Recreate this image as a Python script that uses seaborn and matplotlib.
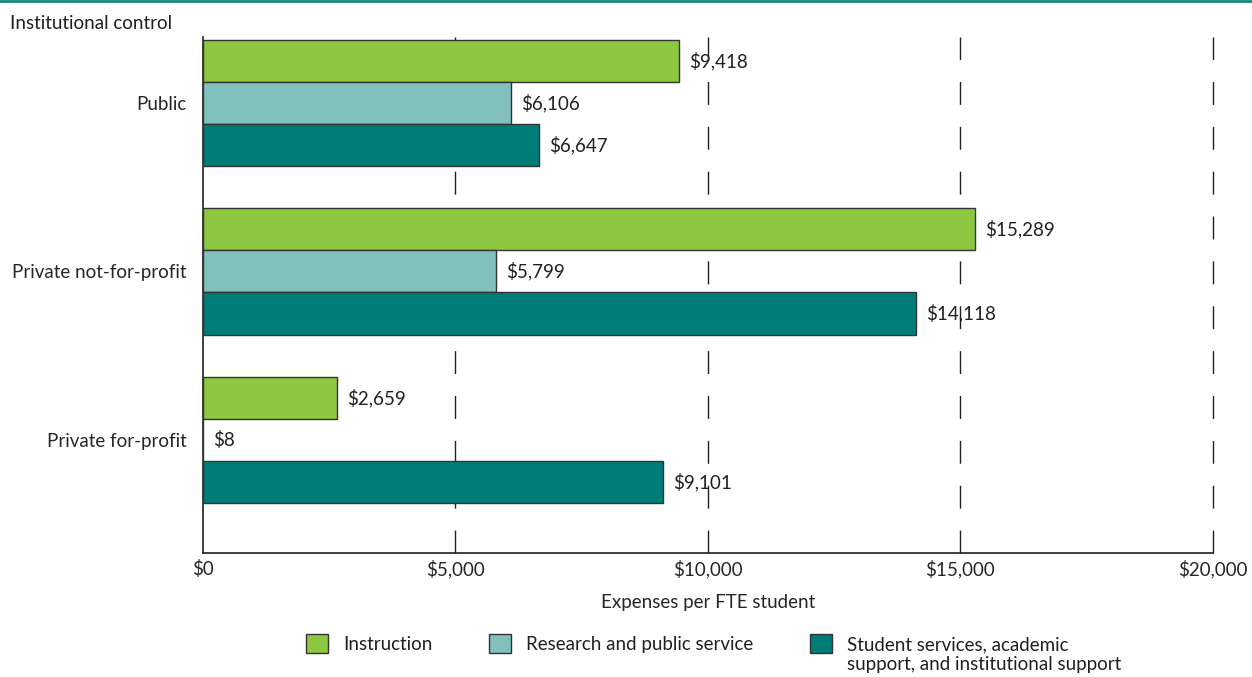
import matplotlib.pyplot as plt
import matplotlib.patches as mpatches
import numpy as np
import pandas as pd
import seaborn as sns

categories = ["Public", "Private not-for-profit", "Private for-profit"]
series = ["Instruction", "Research and public service",
          "Student services, academic\nsupport, and institutional support"]
instruction = [9418, 15289, 2659]
research = [6106, 5799, 8]
student = [6647, 14118, 9101]
colors = ["#8DC63F", "#82C0BE", "#007D78"]
xticks = [0, 5000, 10000, 15000, 20000]

rows = []
for i, c in enumerate(categories):
    rows.append((c, series[0], instruction[i]))
    rows.append((c, series[1], research[i]))
    rows.append((c, series[2], student[i]))
df = pd.DataFrame(rows, columns=["control", "type", "value"])

sns.set_style("white")
plt.rcParams['font.family'] = ['Lato', 'DejaVu Sans']
plt.rcParams['text.color'] = '#231f20'
fs = 13.5

fig = plt.figure(figsize=(12.52, 6.77), dpi=100)
ax = fig.add_axes([0.1621, 0.1832, 0.8067, 0.7621])

sns.barplot(data=df, y="control", x="value", hue="type", order=categories,
            hue_order=series, palette=colors, saturation=1, orient="h", width=0.75,
            edgecolor="#333333", linewidth=1.0, ax=ax, legend=False, zorder=3)

ax.set_xlim(0, 20000)
ax.set_ylim(2.67, -0.39)
ax.set_xticks(xticks)
ax.set_xticklabels(["${:,}".format(v) for v in xticks], fontsize=fs)
ax.tick_params(axis='both', length=0)
ax.tick_params(axis='x', pad=5)
ax.tick_params(axis='y', pad=12, labelsize=fs)
ax.set_ylabel("")
ax.set_xlabel("Expenses per FTE student", fontsize=fs, labelpad=11)

for v in xticks[1:]:
    ax.axvline(v, color="#231f20", lw=1.0, dashes=(16.5, 15.8), zorder=1, clip_on=False)

for s in ["top", "right"]:
    ax.spines[s].set_visible(False)
for s in ["left", "bottom"]:
    ax.spines[s].set_color("#231f20")
    ax.spines[s].set_linewidth(1.2)

for cont in ax.containers:
    for bar in cont:
        w = bar.get_width()
        y = bar.get_y() + bar.get_height() / 2
        ax.text(w + 200, y, "${:,.0f}".format(w), va="center", ha="left",
                fontsize=fs, zorder=4)

fig.text(0.008, 0.965, "Institutional control", fontsize=fs, ha="left", va="center")
fig.add_artist(plt.Line2D([0, 1], [0.998, 0.998], color="#12877f", lw=2,
                          transform=fig.transFigure))

# legend: first line of each label in the row, the wrapped part added below
first_lines = [s.split("\n")[0] for s in series]
handles = [mpatches.Patch(facecolor=c, edgecolor="#333333", lw=1.0) for c in colors]
leg = fig.legend(handles, first_lines, loc="center", bbox_to_anchor=(0.549, 0.049),
                 ncol=3, frameon=False, fontsize=fs, handlelength=1.2,
                 handleheight=1.2, columnspacing=3.0, handletextpad=0.8)
fig.canvas.draw()
t3 = leg.get_texts()[2]
bb = t3.get_window_extent().transformed(fig.transFigure.inverted())
fig.text(bb.x0, bb.y0 - 0.004, series[2].split("\n")[1], fontsize=fs,
         ha="left", va="top")

fig.savefig("out.png", dpi=100)
